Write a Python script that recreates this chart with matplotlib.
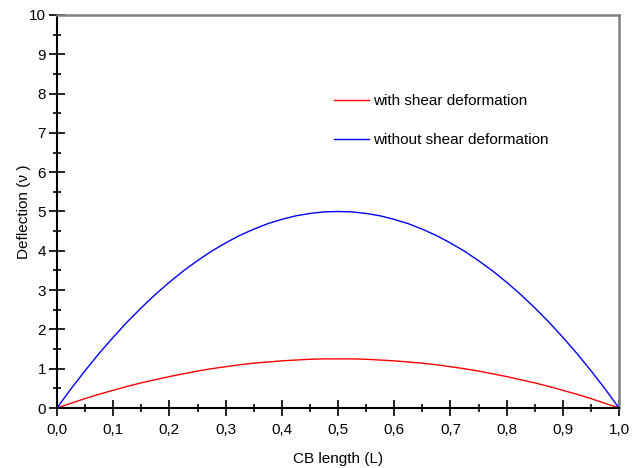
import matplotlib
matplotlib.use("Agg")
import matplotlib.pyplot as plt
from matplotlib.ticker import MultipleLocator, FuncFormatter

plt.rcParams['font.family'] = ['Liberation Sans', 'DejaVu Sans']

# Data
cb_length = [0.000, 0.025, 0.050, 0.075, 0.100, 0.125, 0.150, 0.175, 0.200, 0.225,
             0.250, 0.275, 0.300, 0.325, 0.350, 0.375, 0.400, 0.425, 0.450, 0.475,
             0.500, 0.525, 0.550, 0.575, 0.600, 0.625, 0.650, 0.675, 0.700, 0.725,
             0.750, 0.775, 0.800, 0.825, 0.850, 0.875, 0.900, 0.925, 0.950, 0.975, 1.000]
without_shear = [0.00, 0.49, 0.95, 1.39, 1.80, 2.19, 2.55, 2.89, 3.20, 3.49,
                 3.75, 3.99, 4.20, 4.39, 4.55, 4.69, 4.80, 4.89, 4.95, 4.99,
                 5.00, 4.99, 4.95, 4.89, 4.80, 4.69, 4.55, 4.39, 4.20, 3.99,
                 3.75, 3.49, 3.20, 2.89, 2.55, 2.19, 1.80, 1.39, 0.95, 0.49, 0.00]
with_shear = [0.00, 0.12, 0.24, 0.35, 0.45, 0.55, 0.64, 0.72, 0.80, 0.87,
              0.94, 1.00, 1.05, 1.10, 1.14, 1.17, 1.20, 1.22, 1.24, 1.25,
              1.25, 1.25, 1.24, 1.22, 1.20, 1.17, 1.14, 1.10, 1.05, 1.00,
              0.94, 0.87, 0.80, 0.72, 0.64, 0.55, 0.45, 0.35, 0.24, 0.12, 0.00]
series_labels = ["with shear deformation", "without shear deformation"]

FS = 11

fig = plt.figure(figsize=(6.38, 4.68), dpi=100)
ax = fig.add_axes([57/638, 1-408/468, (619-57)/638, (408-15)/468])

ax.plot(cb_length, with_shear, color='#ff0000', lw=1.0, label=series_labels[0])
ax.plot(cb_length, without_shear, color='#0000ff', lw=1.0, label=series_labels[1])

ax.set_xlim(0, 1)
ax.set_ylim(0, 10)
ax.xaxis.set_major_locator(MultipleLocator(0.1))
ax.xaxis.set_minor_locator(MultipleLocator(0.05))
ax.yaxis.set_major_locator(MultipleLocator(1))
ax.yaxis.set_minor_locator(MultipleLocator(0.5))
ax.xaxis.set_major_formatter(FuncFormatter(lambda v, p: f"{v:.1f}".replace('.', ',')))
ax.yaxis.set_major_formatter(FuncFormatter(lambda v, p: f"{v:.0f}"))

ax.tick_params(which='major', direction='inout', length=12, width=1.2,
               labelsize=FS, top=False, right=False)
ax.tick_params(which='minor', direction='inout', length=6, width=1.2,
               top=False, right=False)
ax.tick_params(axis='x', which='major', pad=4.5)
ax.tick_params(axis='y', which='major', pad=2)

for s in ['left', 'bottom']:
    ax.spines[s].set_color('black')
    ax.spines[s].set_linewidth(1.5)
for s in ['top', 'right']:
    ax.spines[s].set_color('#808080')
    ax.spines[s].set_linewidth(1.8)

ax.set_xlabel("CB length (L)", fontsize=FS, labelpad=11)
ax.set_ylabel("Deflection (ν )", fontsize=FS)
ax.yaxis.set_label_coords(-0.046, 0.5)

leg = ax.legend(loc='center left', bbox_to_anchor=(0.493, 0.731), frameon=False,
                fontsize=FS, handlelength=2.3, handletextpad=0.26,
                labelspacing=1.6, borderaxespad=0, borderpad=0)

fig.savefig("out.png", dpi=100)
